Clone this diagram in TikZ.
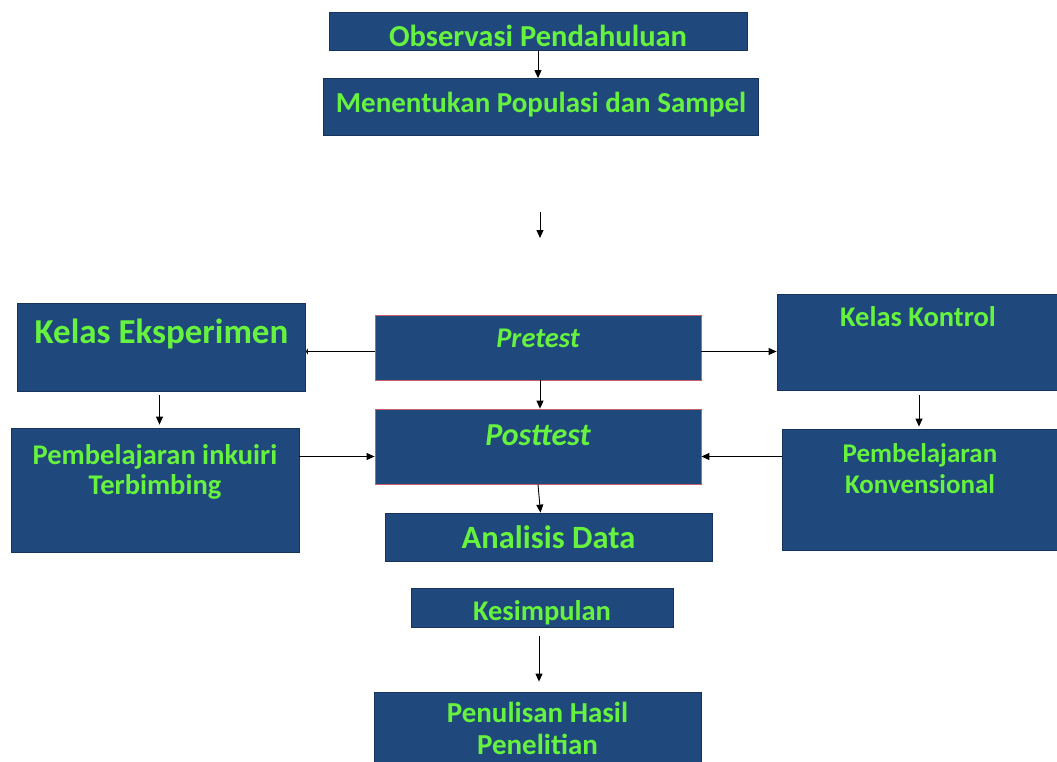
\documentclass[tikz,border=0pt]{standalone}
\usepackage{fontspec}
\setmainfont{Carlito}
\usetikzlibrary{arrows.meta}

\definecolor{boxblue}{RGB}{31,73,125}
\definecolor{edgeblue}{RGB}{22,52,92}
\definecolor{edgered}{RGB}{196,96,104}
\definecolor{txtgreen}{RGB}{102,242,62}

\begin{document}
\begin{tikzpicture}[x=1pt, y=-1pt,
    box/.style={rectangle, draw=edgeblue, fill=boxblue, text=txtgreen, align=center, inner sep=0pt, line width=0.8pt},
    testbox/.style={box, draw=edgered},
    arr/.style={-{Triangle[length=8pt,width=7pt]}, line width=0.9pt},
    stub/.style={-{Triangle[length=2pt,width=6pt]}, line width=0.9pt}]

    \useasboundingbox (0,0) rectangle (1057,762);
    \clip (0,0) rectangle (1057,762);

    % main column
    \node[box, minimum width=418pt, text height=35pt, text depth=3pt, font=\bfseries\fontsize{30.5}{36}\selectfont] (obs) at (538,31) {Observasi Pendahuluan};
    \node[box, minimum width=435pt, text height=34pt, text depth=23pt, font=\bfseries\fontsize{29}{34}\selectfont] (pop) at (541,107) {Menentukan Populasi dan Sampel};
    \coordinate (gaptop) at (540,212);
    \coordinate (gapbot) at (540,238);

    \node[testbox, minimum width=326pt, text height=32pt, text depth=33pt, font=\bfseries\itshape\fontsize{28.5}{33}\selectfont] (pre) at (538,347.5) {Pretest};
    \node[testbox, minimum width=326pt, text height=36pt, text depth=39pt, font=\bfseries\itshape\fontsize{32}{38}\selectfont] (post) at (538,446.5) {Posttest};
    \node[box, minimum width=327pt, text height=35pt, text depth=13pt, font=\bfseries\fontsize{32.5}{38}\selectfont] (ana) at (548.5,537) {Analisis Data};
    \node[box, minimum width=262pt, text height=32pt, text depth=7pt, font=\bfseries\fontsize{28.5}{34}\selectfont] (kes) at (542,607.5) {Kesimpulan};
    \node[box, minimum width=327pt, text height=62pt, text depth=28pt, font=\bfseries\fontsize{29}{32}\selectfont] (tulis) at (537.5,737) {Penulisan Hasil\\Penelitian};

    % left branch
    \node[box, minimum width=288pt, text height=40pt, text depth=48pt, font=\bfseries\fontsize{35}{41}\selectfont] (eks) at (161.5,347) {Kelas Eksperimen};
    \node[box, minimum width=288pt, text height=66pt, text depth=58pt, font=\bfseries\fontsize{28.5}{29.5}\selectfont] (inkuiri) at (155,490) {Pembelajaran inkuiri\\Terbimbing};

    % right branch
    \node[box, minimum width=282pt, text height=32pt, text depth=64pt, font=\bfseries\fontsize{28.5}{34}\selectfont] (kontrol) at (918,342) {Kelas Kontrol};
    \node[box, minimum width=276pt, text height=64pt, text depth=57pt, font=\bfseries\fontsize{27}{31}\selectfont] (konv) at (920,489.5) {Pembelajaran\\Konvensional};

    \draw[arr] (obs.south) -- (obs.south |- pop.north);
    \draw[arr] (gaptop) -- (gapbot);
    \draw[stub] ([yshift=-4pt]pre.west) -- ([yshift=-4pt]pre.west -| eks.east);
    \draw[arr] ([yshift=-4pt]pre.east) -- ([yshift=-4pt]pre.east -| kontrol.west);
    \draw[arr] ([xshift=2pt]pre.south) -- ([xshift=2pt]post.north);
    \draw[arr, shorten <=4pt, shorten >=3pt] ([xshift=-2pt]eks.south) -- ([xshift=-2pt]eks.south |- inkuiri.north);
    \draw[arr, shorten <=5pt, shorten >=2pt] ([xshift=1pt]kontrol.south) -- ([xshift=1pt]kontrol.south |- konv.north);
    \draw[arr] ([yshift=-10pt]post.west -| inkuiri.east) -- ([yshift=-10pt]post.west);
    \draw[arr] ([yshift=-10pt]post.east -| konv.west) -- ([yshift=-10pt]post.east);
    \draw[arr] (post.south) -- ([xshift=-8pt]ana.north);
    \draw[arr, shorten <=9pt, shorten >=10pt] ([xshift=-3pt]kes.south) -- ([xshift=-3pt]kes.south |- tulis.north);
\end{tikzpicture}
\end{document}
